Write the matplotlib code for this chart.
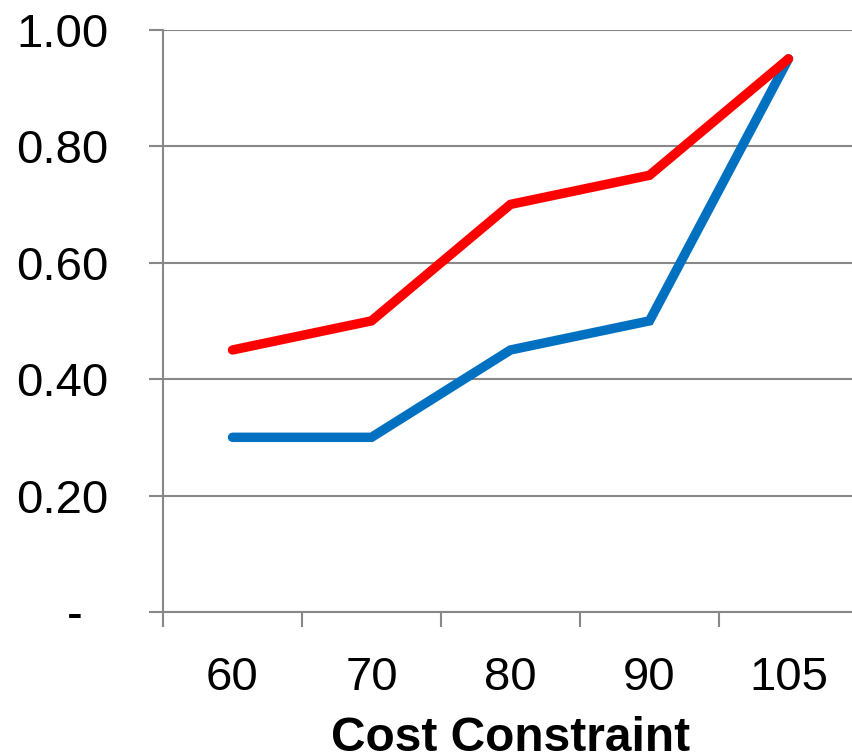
import numpy as np
import matplotlib.pyplot as plt

plt.rcParams['font.family'] = ['Liberation Sans', 'DejaVu Sans']

categories = ['60', '70', '80', '90', '105']
red_series = [0.45, 0.50, 0.70, 0.75, 0.95]
blue_series = [0.30, 0.30, 0.45, 0.50, 0.95]
y_ticks = [0.0, 0.2, 0.4, 0.6, 0.8, 1.0]
y_labels = ['-  ', '0.20', '0.40', '0.60', '0.80', '1.00']

GRID = '#888888'

fig = plt.figure(figsize=(8.52, 7.56), dpi=100)
ax = fig.add_axes([163 / 852, 1 - 612 / 756, 695 / 852, (612 - 29.7) / 756])

x = np.arange(len(categories))
ax.plot(x, blue_series, color='#0070C0', linewidth=6.8, solid_capstyle='round',
        solid_joinstyle='miter', zorder=3)
ax.plot(x, red_series, color='#FF0000', linewidth=6.8, solid_capstyle='round',
        solid_joinstyle='miter', zorder=4)

ax.set_xlim(-0.5, len(categories) - 0.5)
ax.set_ylim(0, 1.0)

ax.set_yticks(y_ticks)
ax.set_yticklabels(y_labels)
ax.set_xticks(x)
ax.set_xticklabels(categories)
ax.set_xticks(np.arange(len(categories) + 1) - 0.5, minor=True)

ax.tick_params(axis='y', length=10, width=1.5, color=GRID, labelsize=34, pad=29)
ax.tick_params(axis='x', which='major', length=0, labelsize=34, pad=32)
ax.tick_params(axis='x', which='minor', length=11, width=1.5, color=GRID)

ax.grid(axis='y', color=GRID, linewidth=1.5)
ax.set_axisbelow(True)

for side in ['top', 'right']:
    ax.spines[side].set_visible(False)
for side in ['left', 'bottom']:
    ax.spines[side].set_color(GRID)
    ax.spines[side].set_linewidth(1.5)

ax.set_xlabel('Cost Constraint', fontsize=34.5, fontweight='bold', labelpad=11)

fig.savefig('out.png', dpi=100)
